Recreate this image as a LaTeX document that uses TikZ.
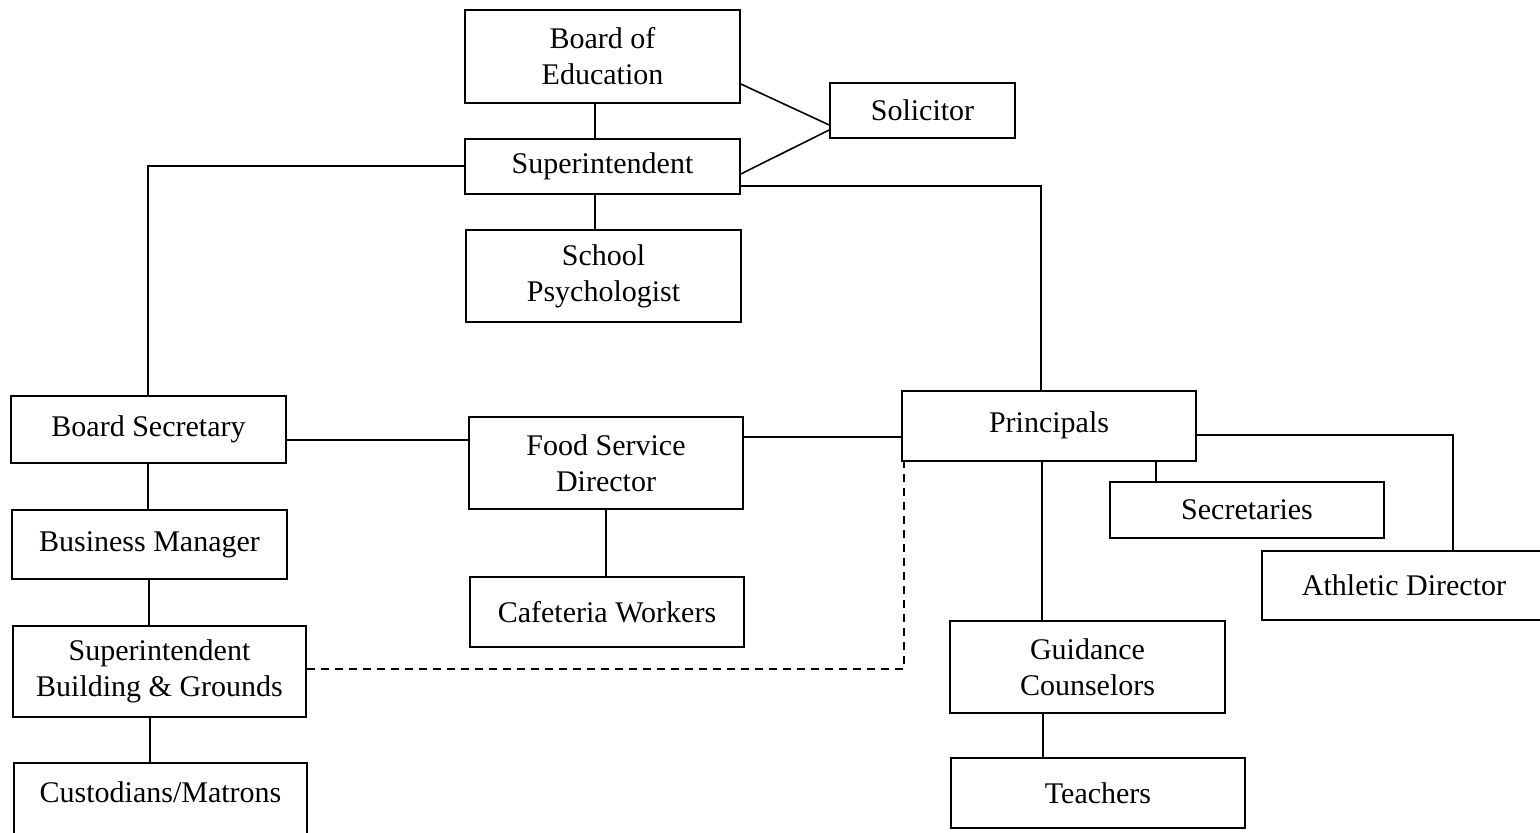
\documentclass[tikz,border=0pt]{standalone}
\usepackage{fontspec}
\setmainfont{Liberation Serif}
\begin{document}
\begin{tikzpicture}[x=0.5pt,y=-0.5pt,
  box/.style={draw, line width=0.8pt, inner sep=0pt, align=center, font=\fontsize{15}{18}\selectfont},
  conn/.style={line width=0.8pt},
  dashconn/.style={line width=0.8pt, dash pattern=on 4pt off 3pt}]
\useasboundingbox (0,0) rectangle (1540,833);

% helper coordinates
\coordinate (X148) at (148,0);
\coordinate (X149) at (149,0);
\coordinate (X150) at (150,0);
\coordinate (X595) at (595,0);
\coordinate (X606) at (606,0);
\coordinate (X904) at (904,0);
\coordinate (X1041) at (1041,0);
\coordinate (X1042) at (1042,0);
\coordinate (X1043) at (1043,0);
\coordinate (X1156) at (1156,0);
\coordinate (X1453) at (1453,0);
\coordinate (Y84) at (0,84);
\coordinate (Y125) at (0,125);
\coordinate (Y130) at (0,130);
\coordinate (Y174) at (0,174);
\coordinate (Y166) at (0,166);
\coordinate (Y186) at (0,186);
\coordinate (Y440) at (0,440);
\coordinate (Y437) at (0,437);
\coordinate (Y669) at (0,669);
\coordinate (Y435) at (0,435);

% boxes
\node[box, minimum width=137.5pt, minimum height=46.5pt] (boe) at (602.5,56.5) {Board of\\Education};
\node[box, minimum width=92.5pt, minimum height=27.5pt] (sol) at (922.5,110.5) {Solicitor};
\node[box, minimum width=137.5pt, minimum height=27.5pt] (sup) at (602.5,166.5) {Superintendent};
\node[box, minimum width=137.5pt, minimum height=46pt] (psy) at (603.5,276) {School\\Psychologist};
\node[box, minimum width=137.5pt, minimum height=33.5pt] (bsec) at (148.5,429.5) {\raisebox{2pt}{Board Secretary}};
\node[box, minimum width=137.5pt, minimum height=34.5pt] (bus) at (149.5,544.5) {Business Manager};
\node[box, minimum width=146.5pt, minimum height=45.5pt] (sbg) at (159.5,671.5) {Superintendent\\Building \& Grounds};
\node[box, minimum width=146.5pt, minimum height=43.5pt] (cust) at (160.5,806.5) {\raisebox{14pt}{Custodians/Matrons}};
\node[box, minimum width=137pt, minimum height=46pt] (fsd) at (606,463) {Food Service\\Director};
\node[box, minimum width=137pt, minimum height=35pt] (caf) at (607,612) {Cafeteria Workers};
\node[box, minimum width=147pt, minimum height=35pt] (pri) at (1049,426) {\raisebox{4pt}{Principals}};
\node[box, minimum width=137pt, minimum height=28pt] (secs) at (1247,510) {Secretaries};
\node[box, minimum width=149pt, minimum height=34.5pt] (ath) at (1411,585.5) {Athletic Director\hspace*{7pt}};
\node[box, minimum width=137.5pt, minimum height=46pt] (gui) at (1087.5,667) {Guidance\\Counselors};
\node[box, minimum width=147pt, minimum height=35pt] (tea) at (1098,793) {Teachers};

% connectors
\draw[conn] (boe.south -| X595) -- (sup.north -| X595);
\draw[conn] (boe.east |- Y84) -- (sol.west |- Y125);
\draw[conn] (sup.east |- Y174) -- (sol.west |- Y130);
\draw[conn] (sup.south -| X595) -- (psy.north -| X595);
\draw[conn] (sup.west |- Y166) -| (bsec.north -| X148);
\draw[conn] (sup.east |- Y186) -| (pri.north -| X1041);
\draw[conn] (bsec.east |- Y440) -- (fsd.west |- Y440);
\draw[conn] (fsd.east |- Y437) -- (pri.west |- Y437);
\draw[conn] (bsec.south -| X148) -- (bus.north -| X148);
\draw[conn] (bus.south -| X149) -- (sbg.north -| X149);
\draw[conn] (sbg.south -| X150) -- (cust.north -| X150);
\draw[conn] (fsd.south -| X606) -- (caf.north -| X606);
\draw[dashconn] (sbg.east |- Y669) -| (pri.south -| X904);
\draw[conn] (pri.south -| X1042) -- (gui.north -| X1042);
\draw[conn] (pri.south -| X1156) -- (secs.north -| X1156);
\draw[conn] (pri.east |- Y435) -| (ath.north -| X1453);
\draw[conn] (gui.south -| X1043) -- (tea.north -| X1043);
\end{tikzpicture}
\end{document}
